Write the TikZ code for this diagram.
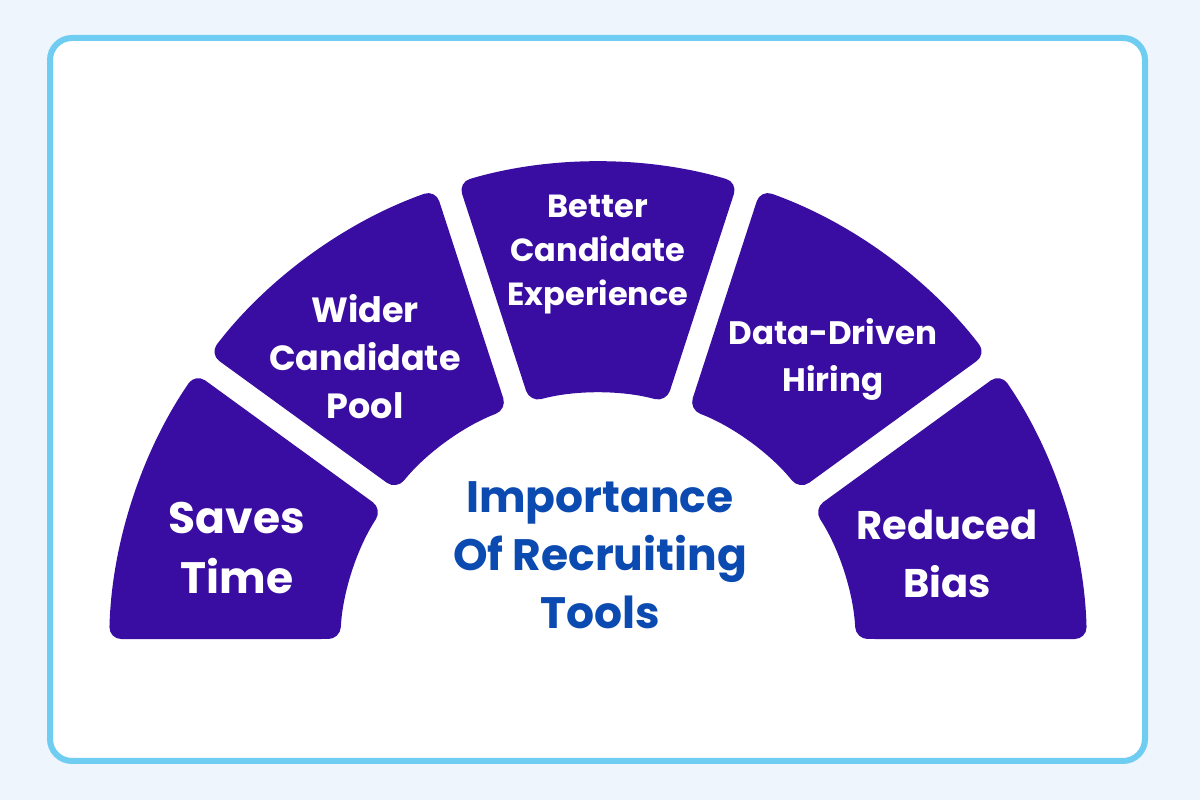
\documentclass[tikz,border=0pt]{standalone}
\usepackage{fontspec}
\setmainfont{Poppins}
\usetikzlibrary{calc}
\definecolor{bgblue}{RGB}{238,245,253}
\definecolor{frameblue}{RGB}{110,205,240}
\definecolor{segpurple}{RGB}{57,13,161}
\definecolor{titleblue}{RGB}{11,74,176}
\tikzset{
  seg/.style={fill=segpurple, draw=none, rounded corners=12pt},
  segtext/.style={text=white, align=center, inner sep=0pt},
  titletext/.style={text=titleblue, align=center, inner sep=0pt,
    font={\fontsize{44}{58}\selectfont\bfseries}}
}
\begin{document}
\begin{tikzpicture}[x=1pt,y=1pt]
\useasboundingbox (0,0) rectangle (1200,800);
\fill[bgblue] (0,0) rectangle (1200,800);
\draw[frameblue, line width=6pt, fill=white, rounded corners=22pt] (50,39) rectangle (1145,762);
\coordinate (C) at (598,149);
\def\Ro{489}
\def\Ri{258}
\pgfmathsetmacro{\dR}{asin(12/\Ro)}
\pgfmathsetmacro{\dr}{asin(12/\Ri)}
\foreach \k in {0,...,4}{
  \pgfmathsetmacro{\a}{36*\k}
  \pgfmathsetmacro{\b}{36*\k+36}
  \pgfmathsetmacro{\sa}{\a+\dR}
  \pgfmathsetmacro{\ea}{\b-\dR}
  \pgfmathsetmacro{\si}{\b-\dr}
  \pgfmathsetmacro{\ei}{\a+\dr}
  \path[seg] ($(C)+(\sa:\Ro)$) arc[start angle=\sa, end angle=\ea, radius=\Ro]
     -- ($(C)+(\si:\Ri)$) arc[start angle=\si, end angle=\ei, radius=\Ri] -- cycle;
}
\node[segtext, font={\fontsize{44}{60}\selectfont\bfseries}] (saves) at (237,252) {Saves\\Time};
\node[segtext, font={\fontsize{35}{48}\selectfont\bfseries}] (wider) at (365,443) {Wider\\Candidate\\Pool};
\node[segtext, font={\fontsize{32}{44}\selectfont\bfseries}] (better) at (598,545) {Better\\Candidate\\Experience};
\node[segtext, font={\fontsize{32.5}{47}\selectfont\bfseries}] (data) at (833,441) {Data-Driven\\Hiring};
\node[segtext, font={\fontsize{40}{58}\selectfont\bfseries}] (reduced) at (947,246) {Reduced\\Bias};
\node[titletext] (title) at (600,245) {Importance\\Of Recruiting\\Tools};
\end{tikzpicture}
\end{document}
